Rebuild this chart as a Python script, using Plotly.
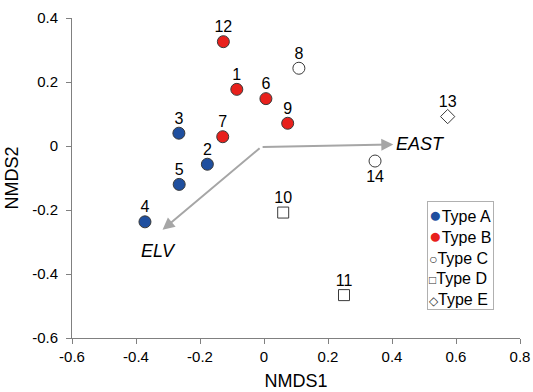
import plotly.graph_objects as go

# Data
type_names = ["Type A", "Type B", "Type C", "Type D", "Type E"]
type_colors = ["#1f4f9f", "#e8201c", "white", "white", "white"]
type_symbols = ["circle", "circle", "circle", "square", "diamond"]
legend_glyphs = ["●", "●", "○", "□", "◇"]
legend_glyph_px = [21, 21, 14, 12, 12]

labels_a = ["2", "3", "4", "5"]
x_a = [-0.177, -0.266, -0.372, -0.265]
y_a = [-0.057, 0.040, -0.237, -0.120]

labels_b = ["1", "6", "7", "9", "12"]
x_b = [-0.085, 0.006, -0.129, 0.074, -0.127]
y_b = [0.177, 0.148, 0.029, 0.071, 0.326]

labels_c = ["8", "14"]
x_c = [0.109, 0.347]
y_c = [0.243, -0.047]

labels_d = ["10", "11"]
x_d = [0.060, 0.250]
y_d = [-0.208, -0.466]

labels_e = ["13"]
x_e = [0.574]
y_e = [0.092]

vector_names = ["EAST", "ELV"]
vec_x = [0.404, -0.317]
vec_y = [0.005, -0.262]
vec_origin_x = [-0.009, -0.009]
vec_origin_y = [-0.003, -0.003]
vec_label_x = [0.489, -0.330]
vec_label_y = [0.006, -0.328]

x_ticks = [-0.6, -0.4, -0.2, 0, 0.2, 0.4, 0.6, 0.8]
x_ticktext = ["-0.6", "-0.4", "-0.2", "0", "0.2", "0.4", "0.6", "0.8"]
y_ticks = [-0.6, -0.4, -0.2, 0, 0.2, 0.4]
y_ticktext = ["-0.6", "-0.4", "-0.2", "0", "0.2", "0.4"]

FONT = "Liberation Sans, Arial, Helvetica, sans-serif"
OUTLINE = "#3a3a3a"

fig = go.Figure()

series = [
    (x_a, y_a, labels_a, 12, "top center"),
    (x_b, y_b, labels_b, 12, "top center"),
    (x_c, y_c, labels_c, 12, ["top center", "bottom center"]),
    (x_d, y_d, labels_d, 11, "top center"),
    (x_e, y_e, labels_e, 11, "top center"),
]

for (xs, ys, labels, size, pos), name, color, symbol in zip(
        series, type_names, type_colors, type_symbols):
    fig.add_trace(go.Scatter(
        x=xs, y=ys, mode="markers", name=name,
        marker=dict(symbol=symbol, color=color, size=size,
                    line=dict(color=OUTLINE, width=1)),
        cliponaxis=False, showlegend=False,
    ))
    # sample number labels (top labels sit close to the marker)
    positions = pos if isinstance(pos, list) else [pos] * len(xs)
    offsets = [7 if p.startswith("top") else size for p in positions]
    fig.add_trace(go.Scatter(
        x=xs, y=ys, mode="markers+text", text=labels, textposition=positions,
        textfont=dict(family=FONT, size=16, color="black"),
        marker=dict(size=offsets, opacity=0), hoverinfo="skip",
        cliponaxis=False, showlegend=False,
    ))

for name, vx, vy, ox, oy, lx, ly in zip(vector_names, vec_x, vec_y, vec_origin_x,
                                          vec_origin_y, vec_label_x, vec_label_y):
    fig.add_annotation(x=vx, y=vy, ax=ox, ay=oy, xref="x", yref="y",
                       axref="x", ayref="y", text="", showarrow=True,
                       arrowhead=2, arrowsize=1.2, arrowwidth=2,
                       arrowcolor="#a6a6a6")
    fig.add_annotation(x=lx, y=ly, xref="x", yref="y", text=f"<i>{name}</i>",
                       showarrow=False,
                       font=dict(family=FONT, size=18, color="black"))

# legend box (compact, symbol right next to text as in the reference)
legend_lines = []
for name, color, glyph, gpx in zip(type_names, type_colors, legend_glyphs,
                                   legend_glyph_px):
    gcolor = color if color != "white" else "#333333"
    legend_lines.append(
        f"<span style='font-size:{gpx}px;color:{gcolor}'>{glyph}</span>{name}")
fig.add_annotation(
    x=0.792, y=0.429, xref="paper", yref="paper", xanchor="left", yanchor="top",
    text="<br>".join(legend_lines), align="left", showarrow=False,
    font=dict(family=FONT, size=16, color="black"),
    bordercolor="#b0b0b0", borderwidth=1, borderpad=1, bgcolor="white")

axis_common = dict(showline=True, linecolor="#808080", linewidth=1,
                   ticks="outside", ticklen=5, tickcolor="#808080",
                   showgrid=False, zeroline=False, automargin=False,
                   tickfont=dict(family=FONT, size=15, color="black"),
                   title_font=dict(family=FONT, size=18, color="black"))

fig.update_xaxes(range=[-0.6, 0.8], tickvals=x_ticks, ticktext=x_ticktext,
                 title_text="NMDS1", title_standoff=10, **axis_common)
fig.update_yaxes(range=[-0.6, 0.4], tickvals=y_ticks, ticktext=y_ticktext,
                 title_text="NMDS2", title_standoff=8, ticklabelstandoff=5,
                 **axis_common)

fig.update_layout(
    width=533, height=392,
    margin=dict(l=72, r=13, t=18, b=54),
    plot_bgcolor="white", paper_bgcolor="white",
    font=dict(family=FONT, color="black"),
    showlegend=False,
)

fig.write_html("out.html")
